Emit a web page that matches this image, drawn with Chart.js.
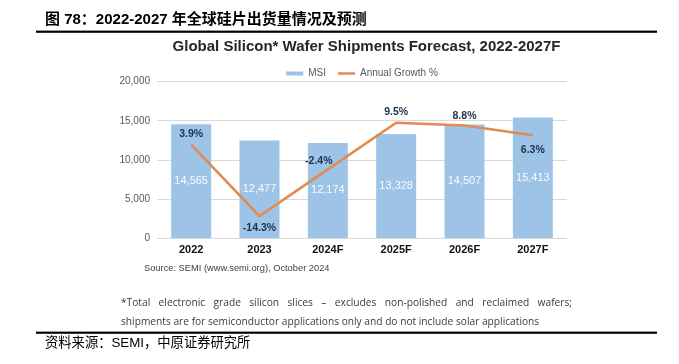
<!DOCTYPE html>
<html><head><meta charset="utf-8">
<script src="https://cdn.jsdelivr.net/npm/chart.js@4"></script>
<style>html,body{margin:0;padding:0;background:#fff}canvas{display:block}</style>
</head><body>
<canvas id="c" width="679" height="364"></canvas>
<script>
const categories = ['2022', '2023', '2024F', '2025F', '2026F', '2027F'];
const msiValues = [14565, 12477, 12174, 13328, 14507, 15413];
const growthValues = [3.9, -14.3, -2.4, 9.5, 8.8, 6.3];
const yTickValues = [0, 5000, 10000, 15000, 20000];
const seriesNames = ['MSI', 'Annual Growth %'];
const headerText = '图 78：2022-2027 年全球硅片出货量情况及预测';
const chartTitle = 'Global Silicon* Wafer Shipments Forecast, 2022-2027F';
const sourceText = 'Source: SEMI (www.semi.org), October 2024';
const noteLines = [
  '*Total electronic grade silicon slices – excludes non-polished and reclaimed wafers;',
  'shipments are for semiconductor applications only and do not include solar applications'
];
const footerText = '资料来源：SEMI，中原证券研究所';

const BAR_COLOR = '#9DC3E6';
const LINE_COLOR = '#E38A50';
const SANS = "'Liberation Sans', Arial, sans-serif";

const valueLabels = {
  id: 'valueLabels',
  afterDatasetsDraw(chart) {
    const ctx = chart.ctx;
    ctx.save();
    ctx.textAlign = 'center';
    ctx.textBaseline = 'middle';
    const bars = chart.getDatasetMeta(0).data;
    ctx.font = "11px " + SANS;
    ctx.fillStyle = 'rgba(255,255,255,0.92)';
    bars.forEach((el, i) => {
      ctx.fillText(msiValues[i].toLocaleString('en-US'), el.x, (el.y + el.base) / 2);
    });
    const pts = chart.getDatasetMeta(1).data;
    const place = [[0, -11], [0, 12], [-9, -8], [0, -11], [0, -9], [0, 15]];
    ctx.font = "bold 10.5px " + SANS;
    ctx.fillStyle = '#1F2F4D';
    pts.forEach((el, i) => {
      ctx.fillText(growthValues[i].toFixed(1) + '%', el.x + place[i][0], el.y + place[i][1]);
    });
    ctx.restore();
  }
};

function justify(ctx, text, x0, x1, y) {
  const words = text.split(' ');
  const total = words.reduce((s, w) => s + ctx.measureText(w).width, 0);
  const gap = (x1 - x0 - total) / (words.length - 1);
  let x = x0;
  words.forEach(w => { ctx.fillText(w, x, y); x += ctx.measureText(w).width + gap; });
}

const decor = {
  id: 'decor',
  afterDraw(chart) {
    const ctx = chart.ctx;
    ctx.save();
    ctx.textBaseline = 'middle';
    ctx.textAlign = 'left';
    ctx.fillStyle = '#000';
    ctx.font = "bold 15px 'Liberation Sans', 'Noto Sans CJK SC'";
    ctx.fillText(headerText, 45, 20);
    ctx.fillRect(36, 30.6, 621, 2.2);
    ctx.fillRect(36, 331.6, 621, 2.2);
    ctx.textAlign = 'center';
    ctx.fillStyle = '#262626';
    ctx.font = "bold 15px " + SANS;
    ctx.fillText(chartTitle, 366.5, 47);
    ctx.textAlign = 'left';
    ctx.fillStyle = '#404040';
    ctx.font = "9.3px " + SANS;
    ctx.fillText(sourceText, 144, 268);
    ctx.font = "10.2px 'Open Sans'";
    ctx.fillStyle = '#3a3a3a';
    justify(ctx, noteLines[0], 121, 572, 303);
    ctx.fillText(noteLines[1], 121, 322);
    ctx.fillStyle = '#000';
    ctx.font = "13.3px 'Liberation Sans', 'Noto Sans CJK SC'";
    ctx.fillText(footerText, 45, 343);
    ctx.restore();
  }
};

new Chart(document.getElementById('c'), {
  data: {
    labels: categories,
    datasets: [
      {
        type: 'bar', label: seriesNames[0], data: msiValues,
        backgroundColor: BAR_COLOR, borderWidth: 0,
        barPercentage: 0.585, categoryPercentage: 1, order: 1, yAxisID: 'y'
      },
      {
        type: 'line', label: seriesNames[1], data: growthValues,
        borderColor: LINE_COLOR, borderWidth: 2.6, pointRadius: 0,
        tension: 0, fill: false, order: 0, yAxisID: 'y2'
      }
    ]
  },
  options: {
    responsive: false,
    animation: false,
    locale: 'en-US',
    layout: { padding: { left: 95, right: 112, top: 56.5, bottom: 105.5 } },
    plugins: {
      tooltip: { enabled: false },
      title: { display: false },
      legend: {
        position: 'top', fullSize: false, maxHeight: 25,
        labels: {
          usePointStyle: true, pointStyleWidth: 17, padding: 12,
          color: '#595959', font: { size: 10, family: SANS },
          generateLabels: (chart) => chart.data.datasets.map((ds, i) => ({
            text: ds.label,
            fillStyle: i === 0 ? BAR_COLOR : LINE_COLOR,
            strokeStyle: i === 0 ? BAR_COLOR : LINE_COLOR,
            lineWidth: i === 0 ? 4 : 2.6,
            pointStyle: 'line', hidden: false, datasetIndex: i, fontColor: '#595959'
          }))
        }
      }
    },
    scales: {
      x: {
        grid: { display: false, drawTicks: false },
        border: { display: false },
        ticks: { color: '#111', padding: 5, font: { size: 11, weight: 'bold', family: SANS } },
        afterFit(scale) { scale.height = 20; }
      },
      y: {
        position: 'left', min: 0, max: 20000,
        afterBuildTicks(scale) { scale.ticks = yTickValues.map(v => ({ value: v })); },
        grid: { color: '#D9D9D9', lineWidth: 1, drawTicks: false },
        border: { display: false },
        ticks: { color: '#595959', padding: 7, font: { size: 10, family: SANS } },
        afterFit(scale) { scale.width = 62; }
      },
      y2: {
        display: false, min: -20, max: 20
      }
    }
  },
  plugins: [valueLabels, decor]
});
</script>
</body></html>
